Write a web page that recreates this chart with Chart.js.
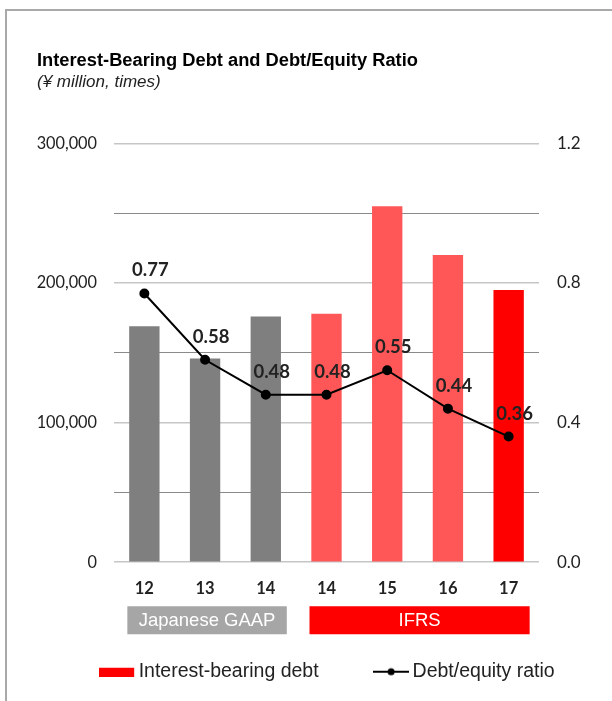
<!DOCTYPE html>
<html>
<head>
<meta charset="utf-8">
<script src="https://cdn.jsdelivr.net/npm/chart.js@4.4.0/dist/chart.umd.min.js"></script>
<style>
  html, body { margin: 0; padding: 0; background: #fff; overflow: hidden; }
  canvas { display: block; }
</style>
</head>
<body>
<canvas id="chart" width="612" height="701"></canvas>
<script>
// fiscal years (Japanese GAAP 12-14, IFRS 14-17)
const years = ["12", "13", "14", "14", "15", "16", "17"];
const debt = [169000, 146000, 176000, 178000, 255000, 220000, 195000];
const ratio = [0.77, 0.58, 0.48, 0.48, 0.55, 0.44, 0.36];
const debtTicks = [0, 100000, 200000, 300000];
const ratioTicks = [0, 0.4, 0.8, 1.2];

const groupNames = ["Japanese GAAP", "IFRS"];
const groupFrom = [0, 3];
const groupTo = [2, 6];
const groupColors = ["#a6a6a6", "#ff0000"];

function barColor(ctx) {
  const i = ctx.dataIndex;
  if (i < groupFrom[1]) return "#7f7f7f";
  if (i === years.length - 1) return "#ff0000";
  return "#ff5757";
}

// legend markers
function makeMarker(kind) {
  const c = document.createElement("canvas");
  c.width = 36; c.height = 10;
  const g = c.getContext("2d");
  if (kind === "bar") {
    g.fillStyle = "#ff0000";
    g.fillRect(0, 1, 35, 9);
  } else {
    g.strokeStyle = "#000"; g.lineWidth = 2;
    g.beginPath(); g.moveTo(0, 5); g.lineTo(36, 5); g.stroke();
    g.fillStyle = "#000";
    g.beginPath(); g.arc(18, 5, 3.5, 0, Math.PI * 2); g.fill();
  }
  return c;
}
const barMarker = makeMarker("bar");
const lineMarker = makeMarker("line");

// outer frame (only left and top edges are inside the picture)
const frame = {
  id: "frame",
  beforeDraw(chart) {
    const ctx = chart.ctx;
    ctx.save();
    ctx.strokeStyle = "#a9a9a9";
    ctx.lineWidth = 2;
    ctx.beginPath();
    ctx.moveTo(6, chart.height);
    ctx.lineTo(6, 10);
    ctx.lineTo(chart.width, 10);
    ctx.stroke();
    ctx.restore();
  }
};

const pointLabels = {
  id: "pointLabels",
  afterDatasetsDraw(chart) {
    const ctx = chart.ctx;
    const meta = chart.getDatasetMeta(1);
    ctx.save();
    ctx.font = "bold 18.5px Lato";
    ctx.fillStyle = "#222";
    ctx.textAlign = "center";
    ctx.textBaseline = "middle";
    meta.data.forEach((pt, i) => {
      ctx.fillText(ratio[i].toFixed(2), pt.x + 6, pt.y - 23);
    });
    ctx.restore();
  }
};

const standards = {
  id: "standards",
  afterDraw(chart) {
    const ctx = chart.ctx;
    const x = chart.scales.x;
    const top = chart.chartArea.bottom + 44;
    ctx.save();
    groupNames.forEach((name, g) => {
      const left = x.getPixelForValue(groupFrom[g]) - 17;
      const right = x.getPixelForValue(groupTo[g]) + 21;
      ctx.fillStyle = groupColors[g];
      ctx.fillRect(left, top, right - left, 28);
      ctx.fillStyle = "#fff";
      ctx.font = "18.5px 'Liberation Sans', Arial";
      ctx.textAlign = "center";
      ctx.textBaseline = "middle";
      ctx.fillText(name, (left + right) / 2, top + 15);
    });
    ctx.restore();
  }
};

new Chart(document.getElementById("chart"), {
  data: {
    labels: years,
    datasets: [
      {
        type: "bar",
        label: "Interest-bearing debt",
        data: debt,
        yAxisID: "y",
        backgroundColor: barColor,
        barPercentage: 0.5,
        categoryPercentage: 1,
        order: 1
      },
      {
        type: "line",
        label: "Debt/equity ratio",
        data: ratio,
        yAxisID: "y1",
        borderColor: "#000",
        borderWidth: 2,
        backgroundColor: "#000",
        pointRadius: 4,
        pointBackgroundColor: "#000",
        tension: 0,
        order: 0
      }
    ]
  },
  options: {
    responsive: false,
    animation: false,
    layout: { padding: { left: 37, right: -11, top: 0, bottom: 9.5 } },
    scales: {
      x: {
        grid: { display: false },
        border: { display: false },
        ticks: { color: "#222", font: { family: "Lato", size: 16.5, weight: "bold" }, padding: 9 },
        afterFit(s) { s.height = 39; }
      },
      y: {
        position: "left",
        min: 0, max: 300000,
        border: { display: false },
        grid: {
          drawTicks: false, tickLength: 0,
          color: c => debtTicks.includes(c.tick.value) ? "#c6c6c6" : "#8a8a8a",
          lineWidth: c => debtTicks.includes(c.tick.value) ? 1.6 : 1
        },
        ticks: {
          stepSize: 50000, autoSkip: false, padding: 17, color: "#222",
          font: { family: "Lato", size: 16.3 },
          callback: v => debtTicks.includes(v) ? v.toLocaleString("en-US") : ""
        },
        afterFit(s) { s.width = 77; }
      },
      y1: {
        position: "right",
        min: 0, max: 1.2,
        border: { display: false },
        grid: { display: false, drawTicks: false, tickLength: 0 },
        ticks: {
          stepSize: 0.4, autoSkip: false, padding: 18, color: "#222",
          font: { family: "Lato", size: 17 },
          callback: v => ratioTicks.some(t => Math.abs(t - v) < 1e-6) ? v.toFixed(1) : ""
        },
        afterFit(s) { s.width = 84; }
      }
    },
    plugins: {
      tooltip: { enabled: false },
      title: {
        display: true,
        align: "start",
        text: "Interest-Bearing Debt and Debt/Equity Ratio",
        color: "#000",
        font: { family: "'Liberation Sans', Arial", size: 18.3, weight: "bold" },
        padding: { top: 50, bottom: 0 }
      },
      subtitle: {
        display: true,
        align: "start",
        text: "(¥ million, times)",
        color: "#222",
        font: { family: "'Liberation Sans', Arial", size: 17, style: "italic" },
        padding: { top: 0, bottom: 51 }
      },
      legend: {
        position: "bottom",
        labels: {
          usePointStyle: true,
          pointStyleWidth: 23.5,
          padding: 60.75,
          color: "#222",
          font: { family: "'Liberation Sans', Arial", size: 19.5 },
          generateLabels: () => [
            { text: "Interest-bearing debt", pointStyle: barMarker, datasetIndex: 0, hidden: false, lineWidth: 0, fontColor: "#222" },
            { text: "Debt/equity ratio", pointStyle: lineMarker, datasetIndex: 1, hidden: false, lineWidth: 0, fontColor: "#222" }
          ]
        }
      }
    }
  },
  plugins: [frame, pointLabels, standards]
});
</script>
</body>
</html>
